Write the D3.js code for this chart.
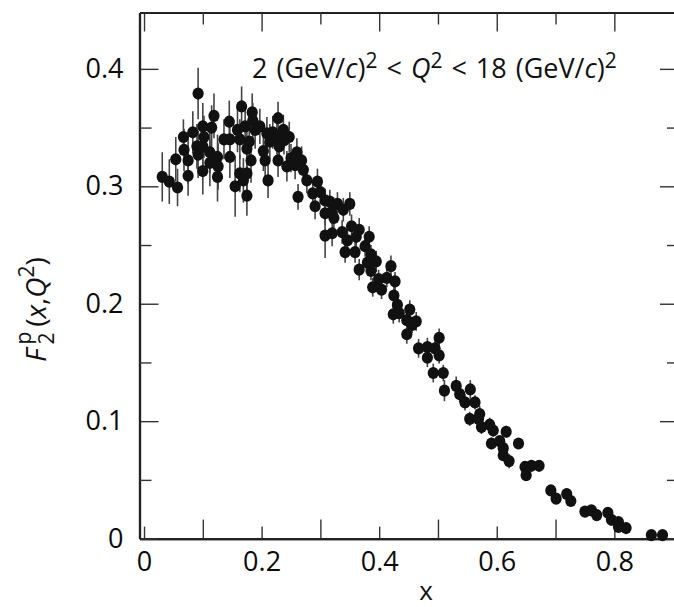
<!DOCTYPE html>
<html>
<head>
<meta charset="utf-8">
<script src="https://cdn.jsdelivr.net/npm/d3@7"></script>
<style>
    body { margin: 0; background: #fff; }
    svg { display: block; }
</style>
</head>
<body>
<div id="chart"></div>
<script>
// F2 proton structure function
const xData = [
    0.031, 0.043, 0.057, 0.054, 0.067, 0.068, 0.075, 0.075, 0.083, 0.092,
    0.090, 0.092, 0.100, 0.102, 0.100, 0.100, 0.115, 0.119, 0.112, 0.112,
    0.125, 0.126, 0.125, 0.136, 0.145, 0.146, 0.146, 0.155, 0.159, 0.163,
    0.166, 0.163, 0.169, 0.175, 0.175, 0.172, 0.175, 0.179, 0.182, 0.184,
    0.185, 0.189, 0.197, 0.203, 0.206, 0.209, 0.211, 0.214, 0.219, 0.226,
    0.228, 0.230, 0.228, 0.237, 0.238, 0.247, 0.243, 0.250, 0.260, 0.257,
    0.262, 0.268, 0.271, 0.277, 0.295, 0.287, 0.291, 0.300, 0.308, 0.316,
    0.329, 0.339, 0.350, 0.308, 0.319, 0.323, 0.308, 0.320, 0.337, 0.353,
    0.366, 0.346, 0.361, 0.383, 0.342, 0.359, 0.376, 0.366, 0.386, 0.380,
    0.395, 0.386, 0.399, 0.413, 0.420, 0.427, 0.389, 0.404, 0.425, 0.431,
    0.424, 0.434, 0.452, 0.447, 0.456, 0.463, 0.447, 0.467, 0.482, 0.495,
    0.502, 0.482, 0.502, 0.492, 0.509, 0.511, 0.531, 0.537, 0.555, 0.546,
    0.563, 0.571, 0.554, 0.569, 0.574, 0.588, 0.594, 0.616, 0.591, 0.605,
    0.611, 0.611, 0.621, 0.637, 0.648, 0.659, 0.672, 0.650, 0.692, 0.701,
    0.719, 0.726, 0.750, 0.761, 0.770, 0.789, 0.795, 0.807, 0.807, 0.820,
    0.863, 0.882
];
const yData = [
    0.308, 0.304, 0.299, 0.323, 0.342, 0.331, 0.322, 0.309, 0.346, 0.379,
    0.334, 0.327, 0.351, 0.342, 0.334, 0.313, 0.350, 0.360, 0.329, 0.320,
    0.325, 0.317, 0.308, 0.340, 0.355, 0.340, 0.325, 0.300, 0.348, 0.340,
    0.368, 0.311, 0.305, 0.311, 0.292, 0.351, 0.332, 0.338, 0.322, 0.363,
    0.356, 0.348, 0.351, 0.330, 0.322, 0.345, 0.305, 0.338, 0.346, 0.342,
    0.358, 0.334, 0.322, 0.348, 0.339, 0.342, 0.317, 0.324, 0.329, 0.318,
    0.291, 0.322, 0.314, 0.305, 0.304, 0.294, 0.283, 0.295, 0.288, 0.287,
    0.285, 0.280, 0.285, 0.277, 0.278, 0.273, 0.258, 0.260, 0.261, 0.266,
    0.263, 0.254, 0.257, 0.257, 0.244, 0.244, 0.249, 0.229, 0.242, 0.235,
    0.236, 0.228, 0.221, 0.222, 0.232, 0.219, 0.214, 0.212, 0.207, 0.199,
    0.191, 0.192, 0.195, 0.186, 0.182, 0.185, 0.174, 0.162, 0.163, 0.162,
    0.171, 0.154, 0.156, 0.141, 0.141, 0.126, 0.130, 0.123, 0.127, 0.116,
    0.116, 0.106, 0.102, 0.102, 0.095, 0.097, 0.092, 0.091, 0.081, 0.083,
    0.077, 0.071, 0.066, 0.081, 0.061, 0.062, 0.062, 0.054, 0.041, 0.034,
    0.038, 0.032, 0.023, 0.024, 0.020, 0.022, 0.016, 0.014, 0.010, 0.009,
    0.003, 0.003
];
const errData = [
    0.021, 0.019, 0.016, 0.019, 0.015, 0.018, 0.020, 0.017, 0.018, 0.022,
    0.019, 0.020, 0.020, 0.018, 0.021, 0.020, 0.019, 0.019, 0.018, 0.020,
    0.019, 0.020, 0.021, 0.017, 0.018, 0.019, 0.018, 0.026, 0.019, 0.017,
    0.017, 0.016, 0.019, 0.018, 0.017, 0.016, 0.018, 0.017, 0.019, 0.016,
    0.015, 0.016, 0.015, 0.017, 0.016, 0.014, 0.015, 0.015, 0.014, 0.015,
    0.014, 0.013, 0.014, 0.013, 0.012, 0.013, 0.013, 0.012, 0.012, 0.012,
    0.011, 0.012, 0.011, 0.011, 0.011, 0.011, 0.011, 0.010, 0.010, 0.010,
    0.010, 0.010, 0.010, 0.010, 0.010, 0.010, 0.019, 0.011, 0.010, 0.010,
    0.010, 0.009, 0.010, 0.009, 0.009, 0.009, 0.009, 0.009, 0.008, 0.008,
    0.009, 0.008, 0.008, 0.008, 0.009, 0.008, 0.008, 0.008, 0.008, 0.008,
    0.008, 0.008, 0.008, 0.008, 0.007, 0.008, 0.008, 0.008, 0.008, 0.007,
    0.008, 0.008, 0.007, 0.008, 0.007, 0.009, 0.008, 0.007, 0.008, 0.007,
    0.006, 0.007, 0.006, 0.006, 0.006, 0.006, 0.005, 0.005, 0.005, 0.005,
    0.005, 0.005, 0.006, 0.004, 0.004, 0.004, 0.004, 0.004, 0.003, 0.003,
    0.003, 0.003, 0.003, 0.003, 0.003, 0.003, 0.003, 0.003, 0.003, 0.002,
    0.002, 0.002
];

const xTicks = [0, 0.2, 0.4, 0.6, 0.8];
const xMinorTicks = [0.1, 0.3, 0.5, 0.7];
const yTicks = [0, 0.1, 0.2, 0.3, 0.4];
const yMinorTicks = [0.05, 0.15, 0.25, 0.35];

function renderChart() {
    let width = 674;
    let height = 607;
    let font = "'Open Sans', 'Noto Sans', sans-serif";

    let x = d3.scaleLinear()
        .domain([-0.0077, 0.91])
        .range([139.5, 679]);

    let y = d3.scaleLinear()
        .domain([0, 0.448])
        .range([538.6, 12.5]);

    let fmt = (d) => d === 0 ? '0' : d3.format('.1f')(d);

    const svg = d3.select('#chart')
        .append('svg')
        .attr('width', width)
        .attr('height', height);

    let styleAxis = (g) => {
        g.select('.domain').attr('stroke', '#222').attr('stroke-width', 2.2);
        g.selectAll('.tick line').attr('stroke', '#333').attr('stroke-width', 1.4);
        g.selectAll('.tick text')
            .attr('fill', '#0a0a0a')
            .style('font-family', font)
            .style('font-size', '27px');
    };

    // bottom: labelled ticks short, odd tenths long
    svg.append('g')
        .attr('transform', `translate(0,${y(0)})`)
        .call(d3.axisBottom(x).tickValues(xTicks).tickFormat(fmt).tickSize(-12).tickPadding(13).tickSizeOuter(0))
        .call(styleAxis);
    svg.append('g')
        .attr('transform', `translate(0,${y(0)})`)
        .call(d3.axisBottom(x).tickValues(xMinorTicks).tickFormat('').tickSize(-19).tickSizeOuter(0))
        .call(styleAxis);

    // top: the other way round
    svg.append('g')
        .attr('transform', `translate(0,${y(0.448)})`)
        .call(d3.axisTop(x).tickValues(xTicks).tickFormat('').tickSize(-19).tickSizeOuter(0))
        .call(styleAxis);
    svg.append('g')
        .attr('transform', `translate(0,${y(0.448)})`)
        .call(d3.axisTop(x).tickValues(xMinorTicks).tickFormat('').tickSize(-12).tickSizeOuter(0))
        .call(styleAxis);

    // left
    svg.append('g')
        .attr('transform', `translate(${x(-0.0077)},0)`)
        .call(d3.axisLeft(y).tickValues(yTicks).tickFormat(fmt).tickSize(-19).tickPadding(16).tickSizeOuter(0))
        .call(styleAxis);
    svg.append('g')
        .attr('transform', `translate(${x(-0.0077)},0)`)
        .call(d3.axisLeft(y).tickValues(yMinorTicks).tickFormat('').tickSize(-12).tickSizeOuter(0))
        .call(styleAxis);

    // right (mostly off the page)
    svg.append('g')
        .attr('transform', `translate(${x(0.91)},0)`)
        .call(d3.axisRight(y).tickValues(yTicks).tickFormat('').tickSize(-19).tickSizeOuter(0))
        .call(styleAxis);
    svg.append('g')
        .attr('transform', `translate(${x(0.91)},0)`)
        .call(d3.axisRight(y).tickValues(yMinorTicks).tickFormat('').tickSize(-12).tickSizeOuter(0))
        .call(styleAxis);

    let data = xData.map((v, i) => ({ x: v, y: yData[i], err: errData[i] }));

    // error bars
    svg.append('g')
        .selectAll('line')
        .data(data)
        .join('line')
        .attr('x1', d => x(d.x))
        .attr('x2', d => x(d.x))
        .attr('y1', d => y(d.y - d.err))
        .attr('y2', d => y(d.y + d.err))
        .attr('stroke', '#444')
        .attr('stroke-width', 1.6);

    svg.append('g')
        .selectAll('ellipse')
        .data(data)
        .join('ellipse')
        .attr('cx', d => x(d.x))
        .attr('cy', d => y(d.y))
        .attr('rx', 5.6)
        .attr('ry', 6.1)
        .attr('fill', '#111');

    // title inside the plot
    let title = svg.append('text')
        .attr('x', 252)
        .attr('y', 78)
        .attr('fill', '#111')
        .style('font-family', font)
        .style('font-size', '27px')
        .style('word-spacing', '2px');
    title.append('tspan').text('2 (GeV/');
    title.append('tspan').style('font-style', 'italic').text('c');
    title.append('tspan').text(')');
    title.append('tspan').attr('dy', -10).style('font-size', '21px').text('2');
    title.append('tspan').attr('dy', 10).text(' < ');
    title.append('tspan').style('font-style', 'italic').text('Q');
    title.append('tspan').attr('dy', -10).style('font-size', '21px').text('2');
    title.append('tspan').attr('dy', 10).text(' < 18 (GeV/');
    title.append('tspan').style('font-style', 'italic').text('c');
    title.append('tspan').text(')');
    title.append('tspan').attr('dy', -10).style('font-size', '21px').text('2');

    // axis titles
    svg.append('text')
        .attr('x', 426)
        .attr('y', 600)
        .attr('text-anchor', 'middle')
        .attr('fill', '#111')
        .style('font-family', font)
        .style('font-size', '26px')
        .text('x');

    let ylab = svg.append('text')
        .attr('transform', 'translate(46,362) rotate(-90)')
        .attr('fill', '#111')
        .style('font-family', font)
        .style('font-size', '28px');
    ylab.append('tspan').style('font-style', 'italic').text('F');
    ylab.append('tspan').attr('dx', 4).attr('dy', 8).style('font-size', '21px').text('2');
    ylab.append('tspan').attr('dx', -12).attr('dy', -23).style('font-size', '21px').text('p');
    ylab.append('tspan').attr('dx', 5).attr('dy', 15).text('(');
    ylab.append('tspan').style('font-style', 'italic').text('x');
    ylab.append('tspan').text(',');
    ylab.append('tspan').style('font-style', 'italic').text('Q');
    ylab.append('tspan').attr('dy', -12).style('font-size', '21px').text('2');
    ylab.append('tspan').attr('dy', 12).text(')');
}

renderChart();
</script>
</body>
</html>
